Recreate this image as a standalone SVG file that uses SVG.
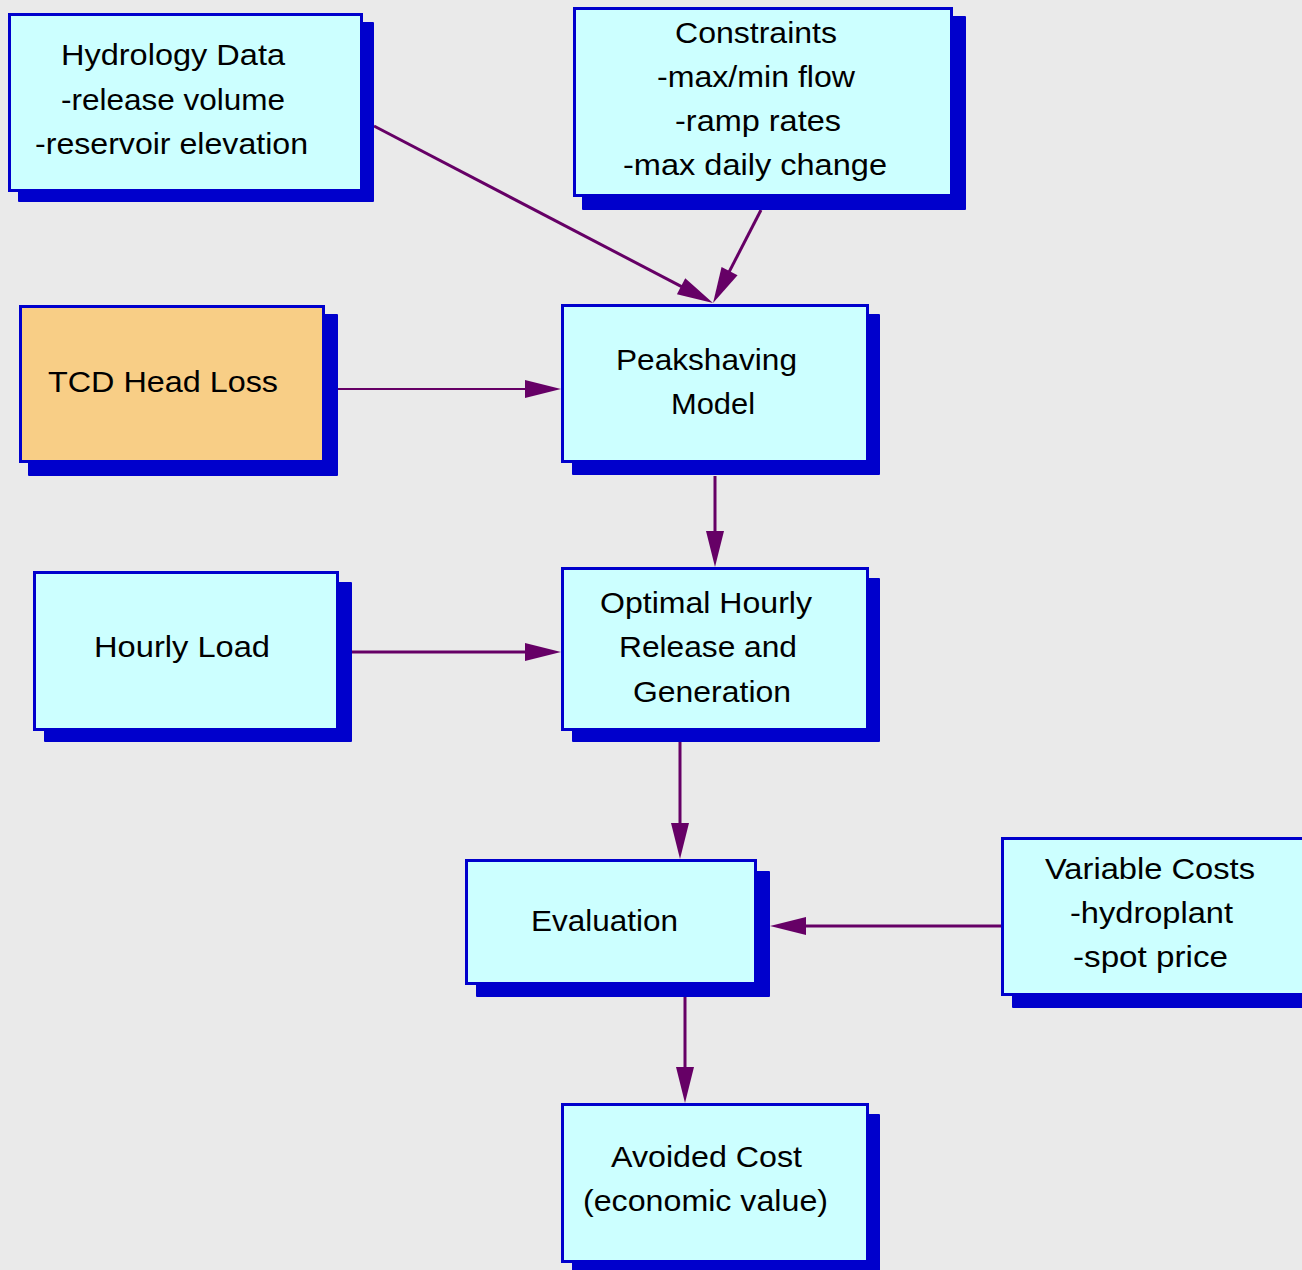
<svg xmlns="http://www.w3.org/2000/svg" width="1302" height="1270" viewBox="0 0 1302 1270">
<style>
.shadow{fill:#0000CC}
.box{fill:#CCFFFF;stroke:#0000CC;stroke-width:3}
.orange{fill:#F8CE86}
.t{font-family:"Liberation Sans",Arial,sans-serif;font-size:30px;fill:#000}
.c{fill:none;stroke:#660066;stroke-width:3}
.thin{stroke-width:2}
</style>
<defs>
<marker id="ah" markerUnits="userSpaceOnUse" markerWidth="40" markerHeight="20" viewBox="0 -10 40 20" refX="6" refY="0" orient="auto" overflow="visible">
<path d="M0,-9 L36,0 L0,9 Z" fill="#660066"/>
</marker>
</defs>
<rect width="1302" height="1270" fill="#EAEAEA"/>
<g id="connectors">
<line class="c" x1="374" y1="126" x2="686.4" y2="289.1" marker-end="url(#ah)"/>
<line class="c" x1="761" y1="210" x2="726.8" y2="276.4" marker-end="url(#ah)"/>
<line class="c thin" x1="338" y1="389" x2="531" y2="389" marker-end="url(#ah)"/>
<line class="c" x1="715" y1="476" x2="715" y2="537" marker-end="url(#ah)"/>
<line class="c" x1="352" y1="652" x2="531" y2="652" marker-end="url(#ah)"/>
<line class="c" x1="680" y1="742" x2="680" y2="829" marker-end="url(#ah)"/>
<line class="c" x1="1001" y1="926" x2="800" y2="926" marker-end="url(#ah)"/>
<line class="c" x1="685" y1="997" x2="685" y2="1073" marker-end="url(#ah)"/>
</g>
<g id="hydrology">
<rect class="shadow" x="18" y="22" width="356" height="180" rx="1"/>
<rect class="box" x="9.5" y="14.5" width="352" height="176"/>
<text class="t" x="61" y="65" textLength="224" lengthAdjust="spacingAndGlyphs">Hydrology Data</text>
<text class="t" x="61" y="110" textLength="224" lengthAdjust="spacingAndGlyphs">-release volume</text>
<text class="t" x="35" y="154" textLength="273" lengthAdjust="spacingAndGlyphs">-reservoir elevation</text>
</g>
<g id="constraints">
<rect class="shadow" x="582" y="16" width="384" height="194" rx="1"/>
<rect class="box" x="574.5" y="8.5" width="377" height="187"/>
<text class="t" x="675" y="43" textLength="162" lengthAdjust="spacingAndGlyphs">Constraints</text>
<text class="t" x="657" y="87" textLength="198" lengthAdjust="spacingAndGlyphs">-max/min flow</text>
<text class="t" x="675" y="131" textLength="166" lengthAdjust="spacingAndGlyphs">-ramp rates</text>
<text class="t" x="623" y="175" textLength="264" lengthAdjust="spacingAndGlyphs">-max daily change</text>
</g>
<g id="tcd">
<rect class="shadow" x="28" y="314" width="310" height="162" rx="1"/>
<rect class="box orange" x="20.5" y="306.5" width="303" height="155"/>
<text class="t" x="48" y="392" textLength="230" lengthAdjust="spacingAndGlyphs">TCD Head Loss</text>
</g>
<g id="peakshaving">
<rect class="shadow" x="572" y="314" width="308" height="161" rx="1"/>
<rect class="box" x="562.5" y="305.5" width="305" height="156"/>
<text class="t" x="616" y="370" textLength="181" lengthAdjust="spacingAndGlyphs">Peakshaving</text>
<text class="t" x="671" y="414" textLength="84" lengthAdjust="spacingAndGlyphs">Model</text>
</g>
<g id="hourly-load">
<rect class="shadow" x="44" y="582" width="308" height="160" rx="1"/>
<rect class="box" x="34.5" y="572.5" width="303" height="157"/>
<text class="t" x="94" y="657" textLength="176" lengthAdjust="spacingAndGlyphs">Hourly Load</text>
</g>
<g id="optimal">
<rect class="shadow" x="572" y="578" width="308" height="164" rx="1"/>
<rect class="box" x="562.5" y="568.5" width="305" height="161"/>
<text class="t" x="600" y="613" textLength="212" lengthAdjust="spacingAndGlyphs">Optimal Hourly</text>
<text class="t" x="619" y="657" textLength="178" lengthAdjust="spacingAndGlyphs">Release and</text>
<text class="t" x="633" y="702" textLength="158" lengthAdjust="spacingAndGlyphs">Generation</text>
</g>
<g id="evaluation">
<rect class="shadow" x="476" y="871" width="294" height="126" rx="1"/>
<rect class="box" x="466.5" y="860.5" width="289" height="123"/>
<text class="t" x="531" y="931" textLength="147" lengthAdjust="spacingAndGlyphs">Evaluation</text>
</g>
<g id="variable-costs">
<rect class="shadow" x="1012" y="848" width="318" height="160" rx="1"/>
<rect class="box" x="1002.5" y="838.5" width="320" height="156"/>
<text class="t" x="1045" y="879" textLength="210" lengthAdjust="spacingAndGlyphs">Variable Costs</text>
<text class="t" x="1070" y="923" textLength="163" lengthAdjust="spacingAndGlyphs">-hydroplant</text>
<text class="t" x="1073" y="967" textLength="155" lengthAdjust="spacingAndGlyphs">-spot price</text>
</g>
<g id="avoided-cost">
<rect class="shadow" x="572" y="1114" width="308" height="166" rx="1"/>
<rect class="box" x="562.5" y="1104.5" width="305" height="157"/>
<text class="t" x="611" y="1167" textLength="191" lengthAdjust="spacingAndGlyphs">Avoided Cost</text>
<text class="t" x="583" y="1211" textLength="245" lengthAdjust="spacingAndGlyphs">(economic value)</text>
</g>
</svg>
